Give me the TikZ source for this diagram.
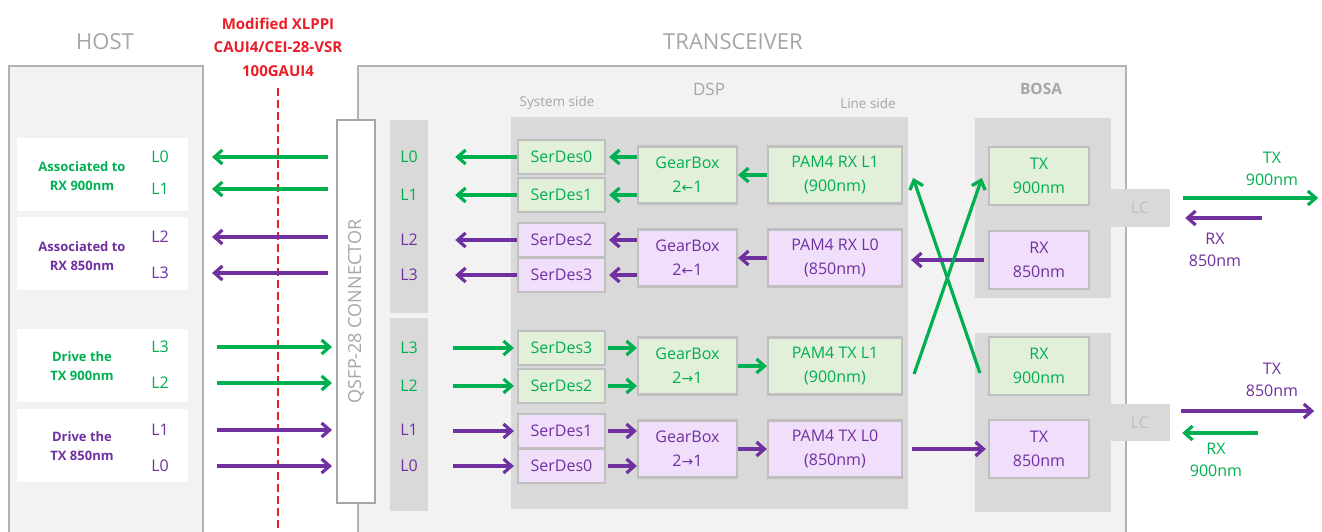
\documentclass[tikz,border=0pt]{standalone}
\usepackage{fontspec}
\setmainfont{Open Sans}
\newfontfamily\arrowfont{DejaVu Sans}
\usetikzlibrary{positioning,arrows.meta}

\definecolor{grn}{RGB}{0,176,80}
\definecolor{prp}{RGB}{112,48,160}
\definecolor{grnfill}{RGB}{226,240,217}
\definecolor{prpfill}{RGB}{240,222,250}
\definecolor{midgray}{RGB}{217,217,217}
\definecolor{lightgray}{RGB}{242,242,242}
\definecolor{edgegray}{RGB}{191,191,191}
\definecolor{outgray}{RGB}{178,178,178}
\definecolor{txtgray}{RGB}{166,166,166}
\definecolor{dashred}{RGB}{235,30,40}

\newcommand{\lar}{{\arrowfont\fontsize{14}{16}\selectfont ←}}
\newcommand{\rar}{{\arrowfont\fontsize{14}{16}\selectfont →}}

\begin{document}
\begin{tikzpicture}[x=1pt,y=-1pt,
		every node/.style={font=\fontsize{16}{24}\selectfont, align=center, inner sep=0pt},
		gbox/.style={draw=edgegray, line width=2.2pt, fill=grnfill, text=grn},
		pbox/.style={draw=edgegray, line width=2.2pt, fill=prpfill, text=prp},
		sdbox/.style={minimum width=87pt, minimum height=34pt},
		gearbox/.style={minimum width=99pt, minimum height=57pt},
		pambox/.style={minimum width=134pt, minimum height=57pt},
		optbox/.style={minimum width=100pt, minimum height=58pt},
		hostbox/.style={fill=white, minimum width=171pt, minimum height=73pt},
		lanebox/.style={fill=midgray, minimum width=38pt, minimum height=193pt},
		>={Straight Barb[length=8pt, width=14pt]},
		garrow/.style={->, draw=grn, line width=3.2pt},
		parrow/.style={->, draw=prp, line width=3.2pt},
		hosttxt/.style={font=\fontsize{13}{19}\selectfont\bfseries},
		headtxt/.style={font=\fontsize{22}{26}\selectfont, text=txtgray},
		sidetxt/.style={font=\fontsize{13.5}{16}\selectfont, text=txtgray},
	]
		\useasboundingbox (0,0) rectangle (1322,532);
		\fill[white] (0,0) rectangle (1322,532);

		% host and transceiver frames
		\node[draw=outgray, line width=2pt, fill=lightgray, minimum width=194pt, minimum height=490pt, anchor=north west] (host) at (8,65) {};
		\node[draw=outgray, line width=2pt, fill=lightgray, minimum width=768pt, minimum height=490pt, anchor=north west] (trx) at (357,65) {};
		\node[headtxt] at (105,42) {HOST};
		\node[headtxt] at (733,42) {TRANSCEIVER};

		% electrical interface
		\node[text=dashred, font=\fontsize{15}{23.5}\selectfont\bfseries] (ifc) at (278,47) {Modified XLPPI\\CAUI4/CEI-28-VSR\\100GAUI4};
		\draw[dashred, line width=2.5pt, dash pattern=on 8pt off 4pt] (ifc.south |- 0,88) -- (ifc.south |- 0,532);

		% host lanes
		\node[hostbox] (hb1) at (102.5,174.5) {};
		\node[hostbox] (hb2) at (102.5,253.5) {};
		\node[hostbox] (hb3) at (102.5,365.5) {};
		\node[hostbox] (hb4) at (102.5,445) {};
		\node[hosttxt, text=grn] at (82,176) {Associated to\\RX 900nm};
		\node[hosttxt, text=prp] at (82,256) {Associated to\\RX 850nm};
		\node[hosttxt, text=grn] at (82,366) {Drive the\\TX 900nm};
		\node[hosttxt, text=prp] at (82,446) {Drive the\\TX 850nm};
		\foreach \lab/\y/\c/\nm in {L0/157/grn/h0, L1/189/grn/h1, L2/237/prp/h2, L3/273/prp/h3,
				L3/347/grn/h4, L2/383/grn/h5, L1/430/prp/h6, L0/466/prp/h7}
			\node[text=\c] (\nm) at (160,\y) {\lab};

		% connector
		\node[draw=txtgray, line width=2pt, fill=white, minimum width=38pt, minimum height=383pt] (qsfp) at (356,311.5) {};
		\node[rotate=90, text=txtgray, font=\fontsize{18}{20}\selectfont] at (qsfp.center) {QSFP-28 CONNECTOR};
		\node[lanebox] (rxl) at (409,216.5) {};
		\node[lanebox] (txl) at (409,414.5) {};
		\foreach \lab/\y/\c/\nm in {L0/157/grn/t0, L1/195/grn/t1, L2/240/prp/t2, L3/275/prp/t3,
				L3/348/grn/t4, L2/386/grn/t5, L1/430/prp/t6, L0/466/prp/t7}
			\node[text=\c] (\nm) at (409,\y) {\lab};

		% DSP
		\node[fill=midgray, minimum width=397pt, minimum height=392pt] (dsp) at (709.5,313) {};
		\node[font=\fontsize{17}{20}\selectfont, text=txtgray] at (709,89) {DSP};
		\node[sidetxt] at (557,103) {System side};
		\node[sidetxt] at (868,103) {Line side};
		\foreach \lab/\y/\s/\nm in {SerDes0/157/gbox/sa, SerDes1/195/gbox/sb, SerDes2/240/pbox/sc, SerDes3/275/pbox/sd,
				SerDes3/348/gbox/se, SerDes2/386/gbox/sf, SerDes1/431/pbox/sg, SerDes0/466/pbox/sh}
			\node[\s, sdbox] (\nm) at (561.5,\y) {\lab};
		\node[gbox, gearbox] (gb1) at (687.5,175) {GearBox\\2\lar1};
		\node[pbox, gearbox] (gb2) at (687.5,258) {GearBox\\2\lar1};
		\node[gbox, gearbox] (gb3) at (687.5,366) {GearBox\\2\rar1};
		\node[pbox, gearbox] (gb4) at (687.5,449) {GearBox\\2\rar1};
		\node[gbox, pambox] (prx1) at (835,175) {PAM4 RX L1\\(900nm)};
		\node[pbox, pambox] (prx0) at (835,258) {PAM4 RX L0\\(850nm)};
		\node[gbox, pambox] (ptx1) at (835,366) {PAM4 TX L1\\(900nm)};
		\node[pbox, pambox] (ptx0) at (835,449) {PAM4 TX L0\\(850nm)};

		% BOSA
		\node[font=\fontsize{15.5}{20}\selectfont\bfseries, text=txtgray] at (1041,89) {BOSA};
		\node[fill=midgray, minimum width=136pt, minimum height=180pt] (bosa1) at (1043,208) {};
		\node[fill=midgray, minimum width=136pt, minimum height=179pt] (bosa2) at (1043,422.5) {};
		\node[gbox, optbox] (btx9) at (1039,176) {TX\\900nm};
		\node[pbox, optbox] (brx8) at (1039,260) {RX\\850nm};
		\node[gbox, optbox] (brx9) at (1039,366) {RX\\900nm};
		\node[pbox, optbox] (btx8) at (1039,449) {TX\\850nm};
		\node[fill=midgray, text=edgegray, minimum width=60pt, minimum height=38pt] (lc1) at (1140,208) {LC};
		\node[fill=midgray, text=edgegray, minimum width=60pt, minimum height=37pt] (lc2) at (1140,422.5) {LC};

		% fibre side
		\coordinate (o1) at ([shift={(13,-10)}]lc1.east);
		\coordinate (o2) at ([shift={(148,-10)}]lc1.east);
		\coordinate (o3) at ([shift={(92,10)}]lc1.east);
		\coordinate (o4) at ([shift={(15,10)}]lc1.east);
		\coordinate (o5) at ([shift={(11,-11.5)}]lc2.east);
		\coordinate (o6) at ([shift={(144,-11.5)}]lc2.east);
		\coordinate (o7) at ([shift={(88,10.5)}]lc2.east);
		\coordinate (o8) at ([shift={(12,10.5)}]lc2.east);
		\draw[garrow] (o1) -- (o2);
		\draw[parrow] (o3) -- (o4);
		\draw[parrow] (o5) -- (o6);
		\draw[garrow] (o7) -- (o8);
		\node[text=grn, font=\fontsize{16}{22}\selectfont] (ftx9) at (1272,169) {TX\\900nm};
		\node[text=prp, font=\fontsize{16}{22}\selectfont] (frx8) at (1215,250) {RX\\850nm};
		\node[text=prp, font=\fontsize{16}{22}\selectfont] (ftx8) at (1272,380) {TX\\850nm};
		\node[text=grn, font=\fontsize{16}{22}\selectfont] (frx9) at (1216,460) {RX\\900nm};

		% receive paths
		\draw[garrow] ([shift={(-8,7)}]brx9.west) -- ([shift={(10,3)}]prx1.east);
		\draw[parrow, shorten <=4pt, shorten >=8pt] (brx8.west) -- (brx8.west -| prx0.east);
		\draw[garrow] (prx1.west) -- (gb1.east);
		\draw[parrow] (prx0.west) -- (gb2.east);
		\draw[garrow, shorten >=3pt] (gb1.west |- sa) -- (sa.east);
		\draw[garrow, shorten >=3pt] (gb1.west |- sb) -- (sb.east);
		\draw[parrow, shorten >=3pt] (gb2.west |- sc) -- (sc.east);
		\draw[parrow, shorten >=3pt] (gb2.west |- sd) -- (sd.east);
		\draw[garrow, shorten >=27pt] (sa.west) -- (rxl.east |- sa);
		\draw[garrow, shorten >=27pt] (sb.west) -- (rxl.east |- sb);
		\draw[parrow, shorten >=27pt] (sc.west) -- (rxl.east |- sc);
		\draw[parrow, shorten >=27pt] (sd.west) -- (rxl.east |- sd);
		\draw[garrow, shorten <=8pt, shorten >=8pt] (qsfp.west |- h0) -- (host.east |- h0);
		\draw[garrow, shorten <=8pt, shorten >=8pt] (qsfp.west |- h1) -- (host.east |- h1);
		\draw[parrow, shorten <=8pt, shorten >=8pt] (qsfp.west |- h2) -- (host.east |- h2);
		\draw[parrow, shorten <=8pt, shorten >=8pt] (qsfp.west |- h3) -- (host.east |- h3);

		% transmit paths
		\draw[garrow, shorten <=13pt, shorten >=4pt] (host.east |- h4) -- (qsfp.west |- h4);
		\draw[garrow, shorten <=13pt, shorten >=4pt] (host.east |- h5) -- (qsfp.west |- h5);
		\draw[parrow, shorten <=13pt, shorten >=4pt] (host.east |- h6) -- (qsfp.west |- h6);
		\draw[parrow, shorten <=13pt, shorten >=4pt] (host.east |- h7) -- (qsfp.west |- h7);
		\draw[garrow, shorten <=25pt, shorten >=3pt] (txl.east |- se) -- (se.west);
		\draw[garrow, shorten <=25pt, shorten >=3pt] (txl.east |- sf) -- (sf.west);
		\draw[parrow, shorten <=25pt, shorten >=3pt] (txl.east |- sg) -- (sg.west);
		\draw[parrow, shorten <=25pt, shorten >=3pt] (txl.east |- sh) -- (sh.west);
		\draw[garrow, shorten <=2pt] (se.east) -- (gb3.west |- se);
		\draw[garrow, shorten <=2pt] (sf.east) -- (gb3.west |- sf);
		\draw[parrow, shorten <=2pt] (sg.east) -- (gb4.west |- sg);
		\draw[parrow, shorten <=2pt] (sh.east) -- (gb4.west |- sh);
		\draw[garrow] (gb3.east) -- (ptx1.west);
		\draw[parrow] (gb4.east) -- (ptx0.west);
		\draw[garrow] ([shift={(11,8)}]ptx1.east) -- ([shift={(-6,2)}]btx9.west);
		\draw[parrow, shorten <=9pt, shorten >=2pt] (ptx0.east) -- (ptx0.east -| btx8.west);
	\end{tikzpicture}
\end{document}
